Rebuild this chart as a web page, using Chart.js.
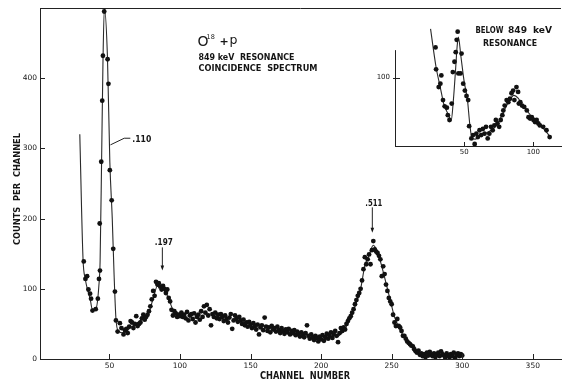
<!DOCTYPE html>
<html><head><meta charset="utf-8">
<script src="https://cdn.jsdelivr.net/npm/chart.js@4.4.1/dist/chart.umd.min.js"></script>
<style>
html,body{margin:0;padding:0;background:#fff;}
#wrap{position:relative;width:565px;height:381px;overflow:hidden;background:#fff;}
#main{position:absolute;left:0;top:0;width:565px;height:381px;}
#inset{position:absolute;left:355px;top:10px;width:210px;height:156px;}
</style></head><body>
<div id="wrap">
<canvas id="main" width="565" height="381"></canvas>
<canvas id="inset" width="210" height="156"></canvas>
</div>
<script>
// ---------- main spectrum data ----------
const peakChannels = [31.8,33.0,34.2,35.1,36.3,37.0,38.0,40.3,41.8,42.6,43.3,43.1,44.2,44.9,45.4,46.3,48.7,49.3,50.3,51.6,52.7,53.9,54.6,55.8,57.4,58.5];
const peakCounts   = [139,114,118,99,93,86,69,71,86,114,126,193,281,368,432,495,427,392,269,226,157,96,55,39,51,44];
const CONT_START = 60;   // one point per channel from here on
const contCounts = [
  35,41,43,37,46,54,52,44,50,61,47,            // 60-70
  50,52,58,63,56,60,63,68,75,85,               // 71-80
  97,90,110,106,108,103,99,104,100,94,         // 81-90
  99,87,82,70,62,68,65,60,63,61,               // 91-100
  66,60,63,58,67,55,62,64,57,65,               // 101-110
  52,60,63,56,68,60,75,66,77,62,               // 111-120
  71,48,64,60,66,58,63,57,64,60,               // 121-130
  54,62,57,52,59,64,43,55,62,57,               // 131-140
  53,60,55,50,56,48,52,46,53,49,               // 141-150
  44,51,47,42,49,35,45,48,41,59,               // 151-160
  46,40,45,38,47,42,44,39,46,41,               // 161-170
  37,44,40,36,42,38,43,35,40,37,               // 171-180
  41,34,39,36,32,38,35,31,37,48,               // 181-190
  33,29,35,31,27,33,30,25,32,28,               // 191-200
  34,26,31,36,29,33,38,30,35,40,               // 201-210
  33,24,37,44,40,45,42,50,54,58,               // 211-220
  61,66,71,78,84,90,94,100,112,128,            // 221-230
  145,135,142,149,135,155,168,156,153,151,     // 231-240
  147,142,118,132,121,106,97,87,82,78,         // 241-250
  63,52,47,57,47,45,40,33,33,29,               // 251-260
  25,23,21,19,18,14,11,9,12,6,                 // 261-270
  8,4,7,3,9,5,10,6,4,8,                        // 271-280
  3,6,9,4,11,7,5,2,8,5,                        // 281-290
  3,7,4,9,2,6,8,4,7,5                          // 291-300
];
// hand-drawn fitted curve (null = gap in the drawn line)
const curveChannels = [29,31.3,32.9,34.7,36.4,37.8,40.6,42.5,43.4,44.5,45.4,46.4,48.6,50.3,52.0,53.3,54.6,56.2,60,65,70,75,78,81,84,87,90,93,96,100, 150, 212,216,220,224,228,231,234,237,240,243,246,249,252,255,258,262,266,270,274];
const curveCounts   = [320,142,114,97,85,71,73,104,140,290,420,500,430,280,200,120,58,40,37,45,52,60,67,86,104,103,95,80,66,62, null, 32,40,55,75,100,133,148,162,152,132,108,84,60,46,34,24,15,8,4];
const mainXTicks = [50,100,150,200,250,300,350];
const mainYTicks = [0,100,200,300,400];

// ---------- inset (below 849 keV) data ----------
const insetChannels = [29.3,29.7,31.6,32.8,33.5,34.7,35.9,37.5,38.2,39.4,41.0,41.8,43.0,43.9,44.6,45.3,45.8,47.4,48.1,49.3,50.5,51.7,52.9,53.6,55.2,56.4,57.6,58.8,59.9,61.1,62.3,63.5,64.7,65.8,67.0,68.2,69.4,70.6,71.8,72.9,74.1,75.3,76.4,77.6,78.3,79.3,80.7,81.9,83.1,84.2,85.4,86.3,87.8,89.0,89.5,90.6,91.8,93.4,95.3,96.5,97.7,98.9,100.1,101.2,102.4,103.6,104.7,107.1,109.5,111.8];
const insetCounts   = [144,112,86,91,103,67,58,56,45,38,62,108,123,137,155,167,106,106,135,91,81,73,67,29,11,16,3,18,13,23,16,25,18,28,11,18,28,23,30,38,33,28,38,45,52,59,67,64,69,77,81,67,86,79,62,64,59,57,52,42,40,42,38,35,38,33,30,28,23,13];
const insetCurveChannels = [25.7,29.7,32.8,35.2,38.7,40.6,42.2,43.9,44.9,45.8,47.7,50.0,52.4,54.0,55.7,58,62,66,70,74,78,82,86,89,92,96,100,104,108,112];
const insetCurveCounts   = [171,115,85,62,45,37,67,115,145,159,130,94,67,33,11,10,15,19,24,32,48,64,74,70,60,50,40,32,24,14];
const insetXTicks = [50,100];
const insetYTicks = [100];
const INSET_AXIS_TOP = 140;

// ---------- helpers ----------
const FAM = '"DejaVu Sans", sans-serif';
const INK = '#151515';
Chart.defaults.font.family = FAM;
Chart.defaults.color = INK;

// draw text squeezed/stretched horizontally to a target width
function fitText(ctx, str, x, y, w, font) {
  ctx.save();
  ctx.font = font;
  ctx.textAlign = 'left';
  ctx.textBaseline = 'alphabetic';
  const nat = ctx.measureText(str).width;
  ctx.translate(x, y);
  ctx.scale(w / nat, 1);
  ctx.fillText(str, 0, 0);
  ctx.restore();
}
function arrowDown(ctx, x, yTop, yTip) {
  ctx.beginPath(); ctx.moveTo(x, yTop); ctx.lineTo(x, yTip - 3); ctx.stroke();
  ctx.beginPath(); ctx.moveTo(x - 1.8, yTip - 5); ctx.lineTo(x + 1.8, yTip - 5); ctx.lineTo(x, yTip); ctx.closePath(); ctx.fill();
}

const mainPoints = peakChannels.map((c, i) => ({x: c, y: peakCounts[i]}))
  .concat(contCounts.map((v, i) => ({x: CONT_START + i, y: v})));
const mainCurve = curveChannels.map((c, i) => ({x: c, y: curveCounts[i]}));

const mainDecor = {
  id: 'mainDecor',
  afterDraw(chart) {
    const {ctx, chartArea: a, scales: {x, y}} = chart;
    ctx.save();
    ctx.strokeStyle = '#222'; ctx.fillStyle = INK; ctx.lineWidth = 1;
    // top frame line
    ctx.beginPath(); ctx.moveTo(a.left, a.top + 0.5); ctx.lineTo(a.right, a.top + 0.5); ctx.stroke();
    // inward tick marks
    ctx.beginPath();
    mainYTicks.forEach(v => { if (v === 0) return; const p = Math.round(y.getPixelForValue(v)) + 0.5; ctx.moveTo(a.left, p); ctx.lineTo(a.left + 5, p); });
    mainXTicks.forEach(v => { const p = Math.round(x.getPixelForValue(v)) + 0.5; ctx.moveTo(p, a.bottom); ctx.lineTo(p, a.bottom - 5); });
    ctx.stroke();
    // axis titles
    fitText(ctx, 'CHANNEL  NUMBER', 260, 379, 90, 'bold 10px ' + FAM);
    ctx.save(); ctx.translate(19.5, 245); ctx.rotate(-Math.PI / 2);
    fitText(ctx, 'COUNTS  PER  CHANNEL', 0, 0, 112, 'bold 9px ' + FAM);
    ctx.restore();
    // title block
    ctx.font = '14px ' + FAM; ctx.textAlign = 'left'; ctx.textBaseline = 'alphabetic';
    ctx.fillText('O', 197.5, 45.5);
    ctx.font = '6.5px ' + FAM; ctx.fillText('18', 206.5, 38.5);
    ctx.font = 'bold 11px ' + FAM; ctx.fillText('+', 219.5, 45);
    ctx.font = '12.5px ' + FAM; ctx.fillText('p', 229.5, 44);
    fitText(ctx, '849 keV  RESONANCE', 198.5, 59.5, 96, 'bold 8px ' + FAM);
    fitText(ctx, 'COINCIDENCE  SPECTRUM', 198.5, 70.5, 119, 'bold 8px ' + FAM);
    // .110 leader
    const l0x = x.getPixelForValue(50.7), l0y = y.getPixelForValue(305);
    const l1x = x.getPixelForValue(60.5), l1y = y.getPixelForValue(314.5);
    const l2x = x.getPixelForValue(64.8);
    ctx.beginPath(); ctx.moveTo(l0x, l0y); ctx.lineTo(l1x, l1y); ctx.lineTo(l2x, l1y); ctx.stroke();
    fitText(ctx, '.110', l2x + 2, l1y + 3.5, 19, 'bold 9px ' + FAM);
    // .197 arrow
    const a1x = x.getPixelForValue(87.5), a1t = y.getPixelForValue(159), a1b = y.getPixelForValue(126);
    arrowDown(ctx, a1x, a1t, a1b);
    fitText(ctx, '.197', a1x - 7.5, a1t - 2, 18, 'bold 9px ' + FAM);
    // .511 arrow
    const a2x = x.getPixelForValue(236.3), a2t = y.getPixelForValue(216), a2b = y.getPixelForValue(180);
    arrowDown(ctx, a2x, a2t, a2b);
    fitText(ctx, '.511', a2x - 7, a2t - 1.5, 17, 'bold 9px ' + FAM);
    ctx.restore();
  }
};

new Chart(document.getElementById('main'), {
  type: 'scatter',
  data: { datasets: [
    { data: mainCurve, showLine: true, borderColor: '#2a2a2a', borderWidth: 1.1, pointRadius: 0, fill: false,
      cubicInterpolationMode: 'monotone', spanGaps: false, order: 2 },
    { data: mainPoints, showLine: false, pointRadius: 2.4, pointBorderWidth: 0, pointBackgroundColor: '#111', order: 1 }
  ]},
  options: {
    responsive: false, animation: false, devicePixelRatio: 1,
    layout: { padding: { top: 8, left: 0, right: 0, bottom: 0 } },
    plugins: { legend: { display: false }, tooltip: { enabled: false } },
    scales: {
      x: { type: 'linear', min: 0.8, max: 370,
        afterFit(s) { s.height = 22; },
        afterBuildTicks(s) { s.ticks = mainXTicks.map(v => ({value: v})); },
        grid: { display: false, drawTicks: false },
        border: { display: true, color: '#222', width: 1 },
        ticks: { font: { size: 7.5 }, padding: 3, color: INK, maxRotation: 0, autoSkip: false } },
      y: { type: 'linear', min: 0, max: 500,
        afterFit(s) { s.width = 40; },
        afterBuildTicks(s) { s.ticks = mainYTicks.map(v => ({value: v})); },
        grid: { display: false, drawTicks: false },
        border: { display: true, color: '#222', width: 1 },
        ticks: { font: { size: 7.5 }, padding: 3, color: INK, autoSkip: false } }
    }
  },
  plugins: [mainDecor]
});

// ---------- inset ----------
const insetPoints = insetChannels.map((c, i) => ({x: c, y: insetCounts[i]}));
const insetCurve = insetCurveChannels.map((c, i) => ({x: c, y: insetCurveCounts[i]}));
const insetDecor = {
  id: 'insetDecor',
  afterDraw(chart) {
    const {ctx, chartArea: a, scales: {x, y}} = chart;
    ctx.save();
    ctx.strokeStyle = '#222'; ctx.fillStyle = INK; ctx.lineWidth = 1;
    ctx.beginPath();
    const lx = Math.round(a.left) + 0.5;
    ctx.moveTo(lx, y.getPixelForValue(0)); ctx.lineTo(lx, y.getPixelForValue(INSET_AXIS_TOP));
    insetYTicks.forEach(v => { const p = Math.round(y.getPixelForValue(v)) + 0.5; ctx.moveTo(a.left - 2, p); ctx.lineTo(a.left + 5, p); });
    insetXTicks.forEach(v => { const p = Math.round(x.getPixelForValue(v)) + 0.5; ctx.moveTo(p, a.bottom); ctx.lineTo(p, a.bottom - 4); });
    ctx.stroke();
    fitText(ctx, 'BELOW', 120.5, 22.5, 28, 'bold 8px ' + FAM);
    fitText(ctx, '849', 153, 22.5, 19, 'bold 8px ' + FAM);
    fitText(ctx, 'keV', 178, 22.5, 19, 'bold 8px ' + FAM);
    fitText(ctx, 'RESONANCE', 128, 36, 54, 'bold 8px ' + FAM);
    ctx.restore();
  }
};
new Chart(document.getElementById('inset'), {
  type: 'scatter',
  data: { datasets: [
    { data: insetCurve, showLine: true, borderColor: '#2a2a2a', borderWidth: 1.1, pointRadius: 0, fill: false,
      cubicInterpolationMode: 'monotone', order: 2 },
    { data: insetPoints, showLine: false, pointRadius: 2.4, pointBorderWidth: 0, pointBackgroundColor: '#111', order: 1 }
  ]},
  options: {
    responsive: false, animation: false, devicePixelRatio: 1,
    layout: { padding: { top: 10, left: 0, right: 0, bottom: 0 } },
    plugins: { legend: { display: false }, tooltip: { enabled: false } },
    scales: {
      x: { type: 'linear', min: 0, max: 120,
        afterFit(s) { s.height = 20; },
        afterBuildTicks(s) { s.ticks = insetXTicks.map(v => ({value: v})); },
        grid: { display: false, drawTicks: false },
        border: { display: true, color: '#222', width: 1 },
        ticks: { font: { size: 7 }, padding: 2, color: INK, maxRotation: 0, autoSkip: false } },
      y: { type: 'linear', min: 0, max: 184,
        afterFit(s) { s.width = 40; },
        afterBuildTicks(s) { s.ticks = insetYTicks.map(v => ({value: v})); },
        grid: { display: false, drawTicks: false },
        border: { display: false },
        ticks: { font: { size: 7 }, padding: 5, color: INK, autoSkip: false } }
    }
  },
  plugins: [insetDecor]
});
</script>
</body></html>
